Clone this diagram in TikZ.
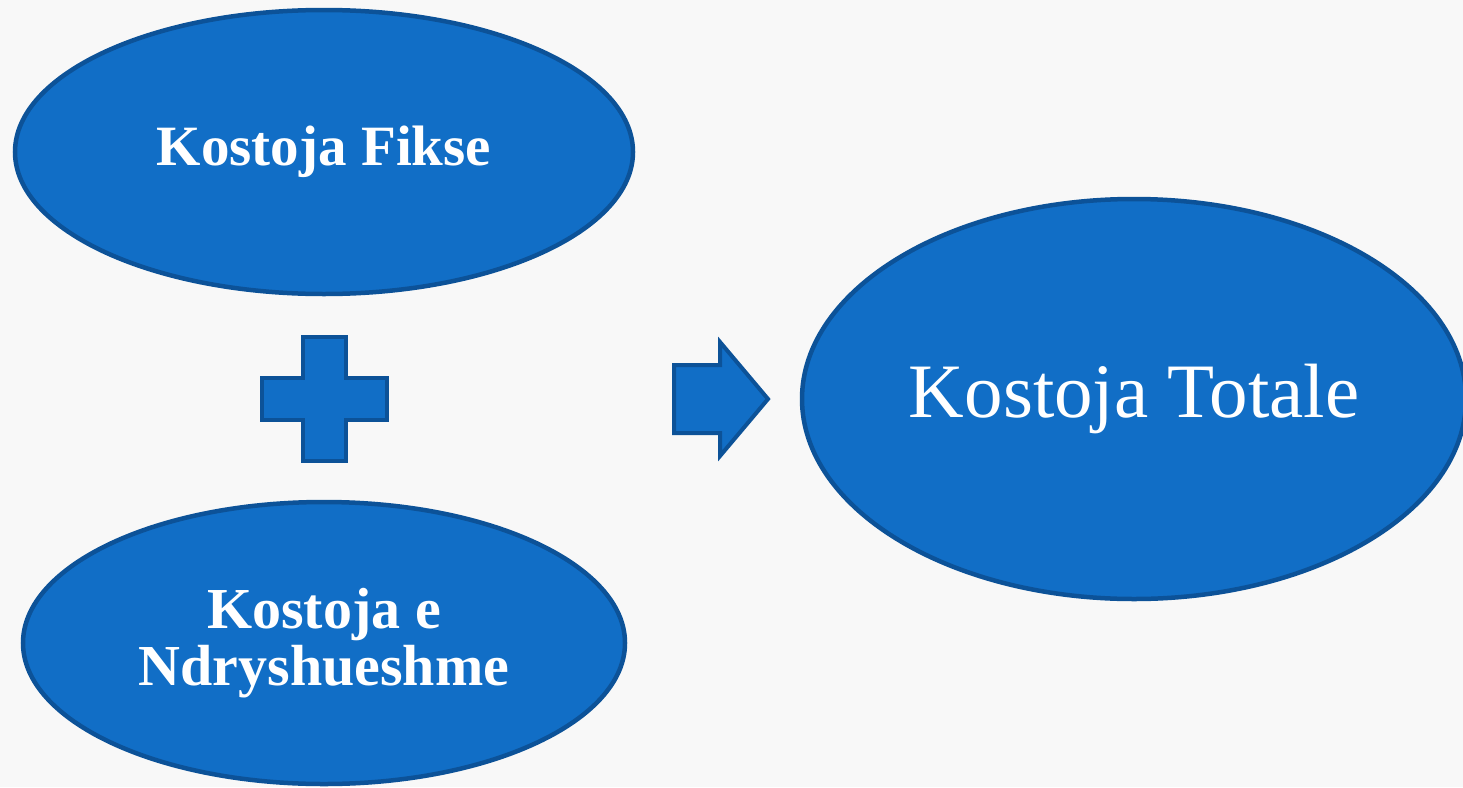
\documentclass[tikz,border=0pt]{standalone}
\usepackage{fontspec}
\setmainfont{Liberation Serif}
\usetikzlibrary{shapes.geometric}
\definecolor{bfill}{RGB}{17,110,198}
\definecolor{bline}{RGB}{12,82,152}
\definecolor{bg}{RGB}{248,248,248}
\tikzset{
  oval/.style={ellipse, draw=bline, fill=bfill, line width=4.5pt, inner sep=0pt, text=white, align=center},
  symb/.style={draw=bline, fill=bfill, line width=4pt, line join=miter},
}
\begin{document}
\begin{tikzpicture}[x=1pt,y=-1pt]
\useasboundingbox (0,0) rectangle (1463,787);
\clip (0,0) rectangle (1463,787);
\fill[bg] (0,0) rectangle (1463,787);
\node[oval, minimum width=618pt, minimum height=284pt, font=\fontsize{57}{57}\selectfont\bfseries] (fix) at (324,152) {Kostoja Fikse};
\node[oval, minimum width=602pt, minimum height=282pt, font=\fontsize{58}{57}\selectfont\bfseries] (var) at (324,643) {\raisebox{-5pt}{}Kostoja e\\[0pt]Ndryshueshme};
\node[oval, minimum width=664pt, minimum height=400pt, font=\fontsize{77}{80}\selectfont] (tot) at (1134,399) {Kostoja Totale};
\coordinate (pc) at (324.5,399);
\draw[symb] ([shift={(-21.5,-62)}]pc) -- ([shift={(21.5,-62)}]pc) -- ([shift={(21.5,-21)}]pc) -- ([shift={(62.5,-21)}]pc)
  -- ([shift={(62.5,21)}]pc) -- ([shift={(21.5,21)}]pc) -- ([shift={(21.5,62)}]pc) -- ([shift={(-21.5,62)}]pc)
  -- ([shift={(-21.5,21)}]pc) -- ([shift={(-62.5,21)}]pc) -- ([shift={(-62.5,-21)}]pc) -- ([shift={(-21.5,-21)}]pc) -- cycle;
\coordinate (ac) at (674,399);
\draw[symb] ([shift={(0,-34)}]ac) -- ([shift={(46,-34)}]ac) -- ([shift={(46,-57)}]ac) -- ([shift={(94,0)}]ac)
  -- ([shift={(46,57)}]ac) -- ([shift={(46,34)}]ac) -- ([shift={(0,34)}]ac) -- cycle;
\end{tikzpicture}
\end{document}
